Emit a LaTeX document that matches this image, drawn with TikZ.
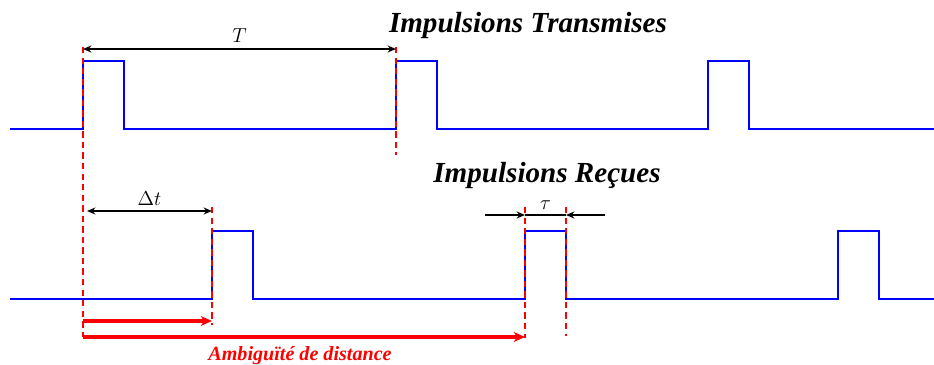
\documentclass[tikz,border=0pt]{standalone}
\usepackage{fontspec}
\newfontfamily\titlefont{Liberation Serif}
\usetikzlibrary{arrows.meta}
\tikzset{
  signal/.style   = {blue, line width=1.8pt, line join=miter},
  marker/.style   = {red, line width=1.8pt, dash pattern=on 4.5pt off 3pt},
  cote/.style     = {black, line width=1.5pt, >={Stealth[length=6pt,width=5pt,inset=2pt]}},
  ambig/.style    = {red, line width=2.6pt, -{Stealth[length=8pt,width=7pt,inset=2.5pt]}},
  titre/.style    = {font=\titlefont\fontsize{20.7}{24}\selectfont\bfseries\itshape},
  symbole/.style  = {font=\fontsize{13.5}{16}\selectfont, inner sep=1pt},
}
\begin{document}
\begin{tikzpicture}[x=0.025cm, y=-0.025cm]
        \useasboundingbox (0,0) rectangle (934,364);
        % titres
        \node[titre, anchor=base] (emis) at (528,32)  {Impulsions Transmises};
        \node[titre, anchor=base] (recu) at (547,182) {Impulsions Reçues};
        % impulsions
        \draw[signal] (10,129) \foreach \x in {83,396,708} { -- (\x,129) -- (\x,61) -- (\x+41,61) -- (\x+41,129) } -- (934,129);
        \draw[signal] (10,299) \foreach \x in {212,525,838} { -- (\x,299) -- (\x,231) -- (\x+41,231) -- (\x+41,299) } -- (934,299);
        % reperes
        \coordinate (e1top) at ( 83, 47);
        \coordinate (e1bot) at ( 83,337);
        \coordinate (e2top) at (396, 47);
        \coordinate (e2bot) at (396,155);
        \coordinate (r1top) at (212,207);
        \coordinate (r1bot) at (212,325);
        \coordinate (r2top) at (525,207);
        \coordinate (r2bot) at (525,338);
        \coordinate (r3top) at (566,207);
        \coordinate (r3bot) at (566,336);
        \draw[marker] (e1top) -- (e1bot);
        \draw[marker] (e2top) -- (e2bot);
        \draw[marker] (r1top) -- (r1bot);
        \draw[marker] (r2top) -- (r2bot);
        \draw[marker] (r3top) -- (r3bot);
        % periode
        \coordinate (Tleft)  at ( 83,49);
        \coordinate (Tright) at (396,49);
        \draw[cote, <->] (Tleft) -- (Tright) node[symbole, midway, above=3pt] (Tlab) {$T$};
        % retard
        \coordinate (dleft)  at ( 87,211);
        \coordinate (dright) at (212,211);
        \draw[cote, <->] (dleft) -- (dright) node[symbole, midway, above=2pt] (dlab) {$\Delta t$};
        % largeur
        \coordinate (wout1) at (485,215);
        \coordinate (win1)  at (525,215);
        \coordinate (win2)  at (566,215);
        \coordinate (wout2) at (605,215);
        \draw[cote, ->] (wout1) -- (win1);
        \draw[cote]     (win1) -- (win2) node[symbole, midway, above=2pt] (wlab) {$\tau$};
        \draw[cote, ->] (wout2) -- (win2);
        % ambiguite
        \coordinate (a1left)  at ( 83,321);
        \coordinate (a1right) at (212,321);
        \coordinate (a2left)  at ( 83,337);
        \coordinate (a2right) at (525,337);
        \draw[ambig] (a1left) -- (a1right);
        \draw[ambig] (a2left) -- (a2right);
        \node[red, font=\titlefont\fontsize{14.3}{16}\selectfont\bfseries\itshape, anchor=base] (alab) at (300,360) {Ambiguïté de distance};
\end{tikzpicture}
\end{document}
